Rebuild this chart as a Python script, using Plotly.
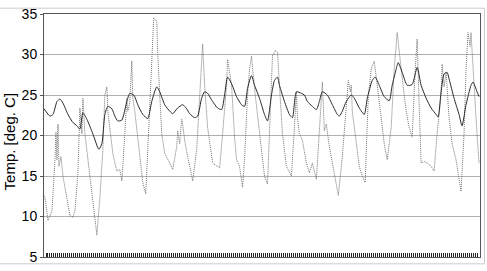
import plotly.graph_objects as go

# time in hours
indoor_t = [0, 6, 9, 13, 16, 19, 24, 29, 33, 36, 39, 43, 49, 55, 58, 61, 64, 68, 71, 74, 78, 83, 86, 90, 94, 99, 104, 108, 113, 116, 121, 126, 129, 134, 139, 143, 146, 151, 154, 158, 161, 164, 169, 174, 178, 181, 184, 188, 193, 198, 201, 204, 208, 211, 216, 221, 224, 228, 231, 234, 236, 241, 246, 249, 253, 258, 261, 264, 269, 273, 276, 279, 284, 289, 294, 296, 299, 303, 308, 311, 316, 321, 324, 329, 332, 336, 341, 346, 349, 353, 355, 359, 364, 369, 374, 378, 383, 388, 393, 395, 398, 401, 404, 406, 411, 416, 419, 423, 428, 430, 434, 436]
indoor_v = [23.3, 22.4, 22.6, 24.2, 24.5, 24.0, 22.6, 21.6, 21.2, 20.8, 22.8, 22.0, 20.2, 18.3, 19.0, 22.6, 23.6, 23.3, 22.4, 21.8, 21.9, 24.2, 25.2, 25.0, 23.8, 22.6, 22.1, 24.2, 26.0, 25.4, 23.8, 23.0, 22.7, 23.4, 23.8, 23.3, 22.7, 22.2, 22.4, 24.6, 25.4, 25.2, 24.2, 23.4, 23.2, 25.0, 27.2, 26.4, 24.8, 23.8, 23.6, 25.8, 27.4, 26.2, 24.6, 22.6, 21.8, 25.0, 26.8, 27.2, 26.2, 24.2, 22.6, 22.2, 25.4, 25.2, 25.0, 24.2, 23.6, 23.2, 24.2, 25.4, 25.0, 23.8, 22.6, 22.4, 23.0, 24.2, 25.0, 24.6, 23.4, 22.6, 24.6, 26.8, 27.2, 26.2, 24.8, 24.3, 26.2, 28.2, 29.0, 27.8, 26.2, 26.3, 28.4, 26.2, 24.6, 23.4, 22.6, 22.3, 25.4, 27.6, 27.8, 27.0, 24.6, 22.6, 21.2, 23.8, 26.2, 26.6, 25.4, 24.8]

outdoor_t = [0, 1, 4, 8, 11, 12, 13, 14, 15, 17, 19, 23, 26, 29, 31, 34, 36, 38, 39, 41, 44, 49, 53, 56, 59, 61, 63, 64, 66, 69, 71, 73, 76, 78, 81, 83, 84, 86, 88, 89, 91, 94, 99, 102, 104, 108, 110, 113, 114, 118, 121, 126, 129, 133, 134, 136, 138, 139, 141, 144, 146, 148, 149, 153, 156, 159, 161, 164, 169, 174, 176, 179, 183, 184, 188, 191, 193, 196, 199, 201, 204, 206, 208, 211, 214, 218, 221, 224, 226, 229, 232, 234, 236, 239, 243, 248, 251, 253, 254, 256, 259, 263, 266, 269, 273, 276, 278, 279, 281, 283, 286, 291, 295, 299, 303, 305, 307, 308, 309, 313, 316, 319, 322, 323, 325, 328, 331, 334, 338, 341, 344, 348, 351, 354, 358, 363, 366, 369, 372, 374, 376, 378, 381, 384, 388, 391, 394, 398, 399, 401, 403, 404, 406, 409, 413, 416, 418, 421, 423, 425, 427, 428, 430, 433, 436]
outdoor_v = [12.6, 12.3, 9.5, 10.7, 17.0, 20.4, 17.0, 21.4, 16.2, 17.4, 15.0, 12.3, 10.1, 9.9, 10.7, 15.4, 23.4, 20.2, 24.6, 20.2, 17.0, 12.3, 7.7, 12.3, 18.2, 25.0, 26.0, 23.0, 21.0, 17.8, 16.6, 15.6, 15.8, 14.4, 20.2, 24.6, 23.0, 24.0, 29.2, 24.6, 23.0, 19.4, 14.2, 12.8, 18.2, 28.2, 34.5, 34.1, 30.1, 20.2, 17.8, 16.6, 15.8, 18.6, 20.6, 19.0, 22.0, 21.4, 19.4, 17.4, 16.2, 15.0, 14.4, 18.2, 24.6, 31.3, 26.2, 21.0, 16.6, 16.2, 16.0, 20.2, 26.2, 29.4, 26.2, 19.8, 17.0, 16.2, 13.6, 17.0, 25.0, 28.2, 29.8, 25.8, 22.6, 17.8, 15.0, 14.0, 20.2, 29.8, 30.5, 30.3, 26.2, 20.2, 16.2, 15.0, 21.0, 25.4, 22.2, 20.2, 19.4, 16.6, 15.4, 16.6, 14.6, 20.2, 24.2, 26.6, 20.6, 21.4, 18.6, 15.0, 12.6, 17.4, 23.0, 26.8, 25.4, 26.2, 23.0, 19.0, 16.2, 15.0, 14.2, 18.2, 24.6, 28.2, 29.2, 26.2, 22.2, 19.0, 17.0, 21.0, 28.2, 32.7, 28.2, 23.0, 21.0, 19.8, 28.0, 31.9, 24.0, 16.6, 16.8, 16.6, 16.2, 15.6, 20.2, 25.0, 28.8, 26.0, 27.8, 26.0, 22.2, 19.0, 17.0, 14.6, 13.1, 20.2, 28.2, 32.7, 31.0, 32.7, 28.2, 22.2, 16.6]

y_ticks = [5, 10, 15, 20, 25, 30, 35]
y_title = "Temp. [deg. C]"

fig = go.Figure()
fig.add_trace(go.Scatter(x=outdoor_t, y=outdoor_v, mode="lines",
                         line=dict(color="#737373", width=1, dash="1px,1px"),
                         showlegend=False))
fig.add_trace(go.Scatter(x=indoor_t, y=indoor_v, mode="lines",
                         line=dict(color="#2a2a2a", width=1, shape="spline", smoothing=0.6),
                         showlegend=False))

fig.update_layout(
    width=487, height=271,
    margin=dict(l=44, r=6, t=9, b=10),
    paper_bgcolor="white", plot_bgcolor="white",
    font=dict(family="Liberation Sans, Arial, sans-serif", color="black"),
    xaxis=dict(range=[0, 437], tickmode="linear", tick0=0, dtick=2,
               ticks="inside", ticklen=4, tickcolor="#222", tickwidth=1,
               showticklabels=False, showgrid=False, zeroline=False,
               showline=True, linecolor="#555", linewidth=1, mirror=True),
    yaxis=dict(range=[5, 35], tickvals=y_ticks, ticks="outside", ticklen=3,
               tickcolor="#555", tickfont=dict(size=14, color="black"),
               showgrid=True, gridcolor="#b0b0b0", gridwidth=1, zeroline=False,
               showline=True, linecolor="#555", linewidth=1, mirror=True),
    annotations=[dict(text=y_title, xref="paper", yref="paper", x=-0.08, y=0.476,
                      textangle=-90, showarrow=False, font=dict(size=15, color="black"),
                      xanchor="center", yanchor="middle")],
    shapes=[dict(type="rect", xref="paper", yref="paper", x0=-0.11, x1=1.0103,
                 y0=-0.028, y1=1.024, line=dict(color="#cccccc", width=1))],
)

fig.write_html("out.html")
